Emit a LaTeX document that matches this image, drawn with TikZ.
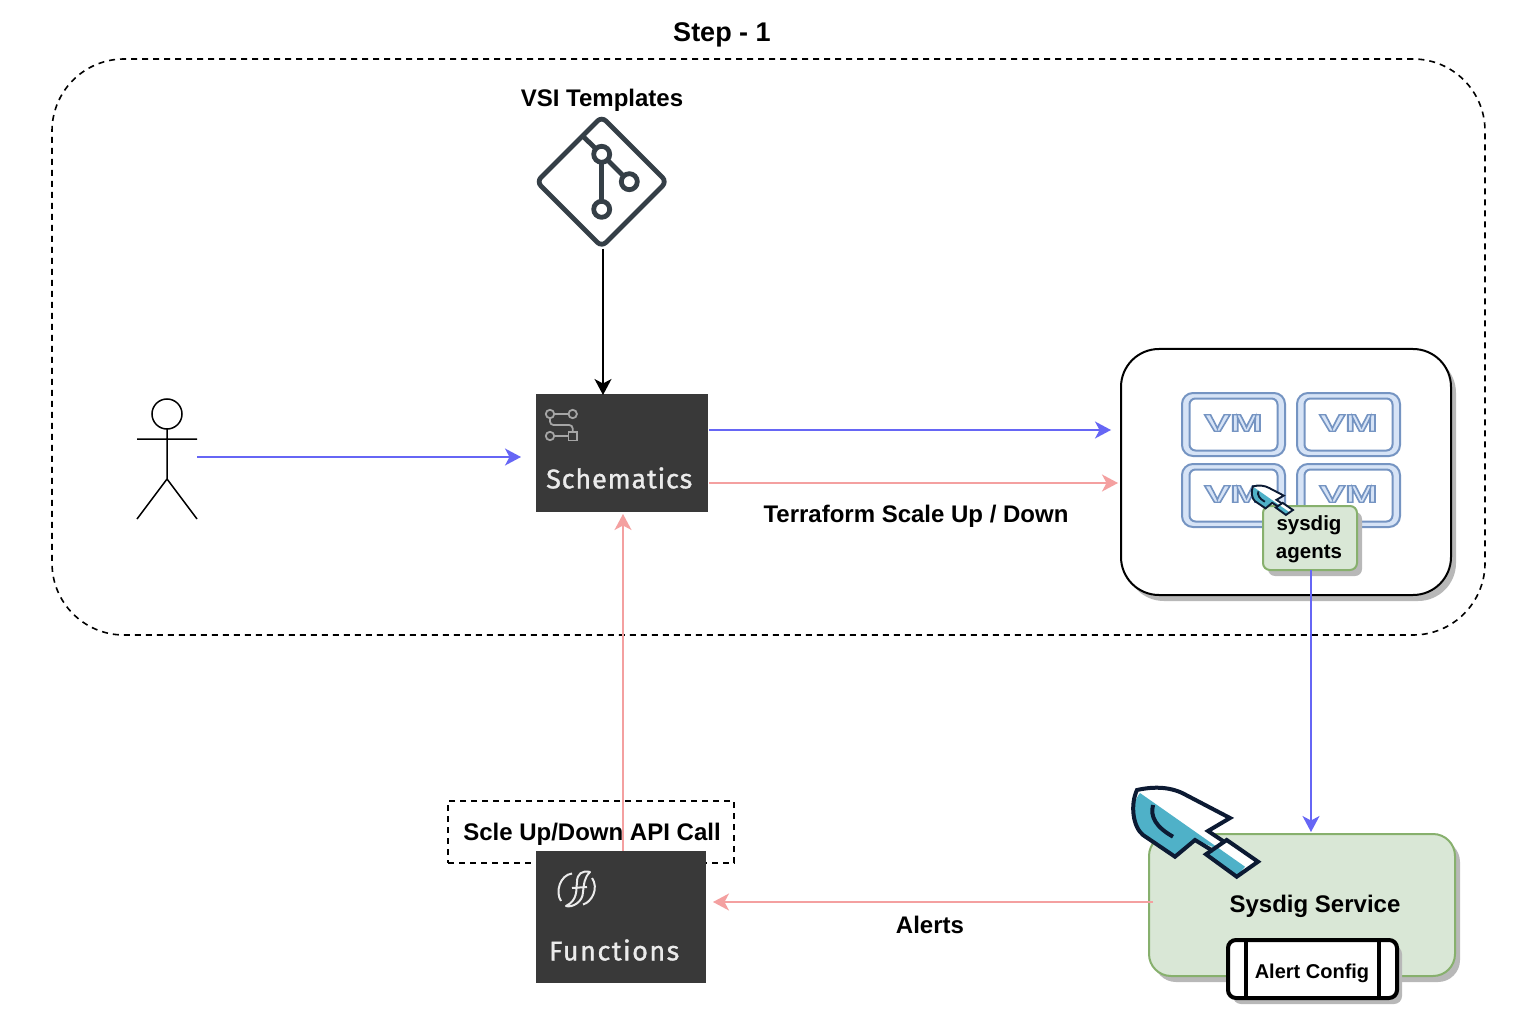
\documentclass[tikz,border=0pt]{standalone}
\usepackage{fontspec}
\setmainfont{Liberation Sans}
\newfontfamily\plexfont{Fira Sans}[FakeBold=1.2]
\usetikzlibrary{arrows.meta,shadows}
\definecolor{bluearrow}{HTML}{6666F5}
\definecolor{pinkarrow}{HTML}{F4A0A0}
\definecolor{darkbox}{HTML}{393939}
\definecolor{greenfill}{HTML}{D9E7D6}
\definecolor{greenline}{HTML}{87B06D}
\definecolor{vmfill}{HTML}{D6E3F6}
\definecolor{vmline}{HTML}{7594C2}
\definecolor{gitcol}{HTML}{353F47}
\definecolor{shovelink}{HTML}{0C1A33}
\definecolor{shovelblue}{HTML}{4FB1C8}
\newcommand{\shovelart}[1]{%
  \fill[white] (17,15) .. controls (35,11) and (52,12) .. (66,20) -- (110,43) -- (88,56) -- (103,66) -- (138,86.7) -- (116.7,101.7) -- (86,79.3) -- (93,72) -- (75,65) -- (55,81.7) -- (23,60) .. controls (13,52) and (10,30) .. (17,15) -- cycle;
  \fill[shovelblue] (20,18) -- (125,91.7) -- (116.7,101.7) -- (86,79.3) -- (93,72) -- (75,65) -- (55,81.7) -- (23,60) .. controls (13,52) and (10,30) .. (20,18) -- cycle;
  \draw[shovelink,line width=#1,line join=miter] (103,66) -- (88,56) -- (110,43) -- (66,20) .. controls (52,12) and (35,11) .. (17,15) .. controls (10,30) and (13,52) .. (23,60) -- (55,81.7) -- (75,65) -- (93,76);
  \draw[shovelink,line width=#1,line join=miter] (106.7,65) -- (138,86.7) -- (116.7,101.7) -- (86,79.3) -- cycle;
  \draw[shovelink,line width=#1] (33,30) .. controls (30,42) and (36,52) .. (53,61.7);
}
\newcommand{\vmtext}{\special{pdf:code 2 Tr 1.1 w 0.46 0.58 0.76 RG}\bfseries VM\special{pdf:code 0 Tr}}
\begin{document}
\begin{tikzpicture}[x=1pt,y=-1pt,
  lbl/.style={font=\bfseries\fontsize{#1}{#1}\selectfont,text=black,inner sep=0pt},
  lbl/.default=24,
  conn/.style={line width=1.5pt,-{Stealth[length=16pt,width=17pt,inset=4.5pt]}},
  shbox/.style={drop shadow={shadow xshift=5pt,shadow yshift=-6pt,fill=black!28,opacity=1}},
  darktile/.style={fill=darkbox,draw=none,inner sep=0pt},
  tiletext/.style={font=\plexfont\fontsize{27}{27}\selectfont\addfontfeatures{LetterSpace=#1},text=white!92!black,inner sep=0pt},
  vmbox/.style={draw=vmline,fill=vmfill,line width=2pt,rounded corners=11pt,minimum width=103pt,minimum height=63pt,inner sep=0pt},
  vminner/.style={draw=vmline,fill=white,line width=2pt,rounded corners=6pt,minimum width=88pt,minimum height=52pt,inner sep=0pt},
  vmlabel/.style={font=\fontsize{24}{24}\selectfont,text=vmfill,inner sep=0pt,xscale=1.62},
  git/.style={draw=gitcol,line width=4.8pt},
  tileicon/.style={draw=black!35,line width=1.8pt},
  dashline/.style={draw,line width=1.6pt,dash pattern=on 6pt off 5pt},
]
\useasboundingbox (0,0) rectangle (1540,1016);
\fill[white] (0,0) rectangle (1540,1016);

% dashed group
\node[dashline,rounded corners=72pt,minimum width=1433pt,minimum height=576pt,inner sep=0pt] (group) at (768.5,347) {};
\node[lbl=27] (title) at (722,35) {Step - 1};

% git icon
\node[lbl] (vsilabel) at (602,100) {VSI Templates};
\draw[git,rounded corners=6pt,fill=white] (601.7,116.7) -- (666.7,181.7) -- (601.7,246.7) -- (536.7,181.7) -- cycle;
\coordinate (gitbottom) at (603,249);
\draw[git] (582.3,135.7) -- (601.7,154.3) -- (629.3,181.7);
\draw[git] (601.7,154.3) -- (601.7,209.3);
\draw[git,fill=white] (601.7,154.3) circle[radius=8];
\draw[git,fill=white] (629.3,181.7) circle[radius=8];
\draw[git,fill=white] (601.7,209.3) circle[radius=8];

% person
\draw[line width=1.5pt] (167,414) circle[radius=15];
\draw[line width=1.5pt] (167,429) -- (167,479) (137,439) -- (197,439) (137,519) -- (167,479) -- (197,519);
\coordinate (personout) at (197,457);

% schematics
\node[darktile,minimum width=172pt,minimum height=118pt] (schem) at (622,453) {};
\node[tiletext=3,anchor=west] (schemtext) at (546,478) {Schematics};
\draw[tileicon] (550,414) circle[radius=4.2] (572.7,414) circle[radius=4.2] (550,436) circle[radius=4.2];
\draw[tileicon] (568.5,432) rectangle (576.9,440.4);
\draw[tileicon] (554.2,414) -- (568.5,414) (554.2,436) -- (568.5,436);
\draw[tileicon,rounded corners=3.5pt] (550,418.2) -- (550,425) -- (572.7,425) -- (572.7,432);

% VM cluster
\node[draw,line width=2pt,fill=white,rounded corners=38pt,minimum width=330pt,minimum height=246pt,inner sep=0pt,shbox] (cluster) at (1286,472) {};
\foreach \nm/\cx/\cy in {a/1233.5/424.5,b/1348.5/424.5,c/1233.5/495.5,d/1348.5/495.5}{
  \node[vmbox] (vm\nm) at (\cx,\cy) {};
  \node[vminner] at (\cx,\cy) {};
  \node[vmlabel] at (\cx,\cy-1.5) {\vmtext};
}
\node[draw=greenline,fill=greenfill,line width=2pt,rounded corners=7pt,minimum width=94pt,minimum height=64pt,inner sep=0pt,shbox] (agents) at (1310,538) {};
\begin{scope}[shift={(1247.4,481.4)},scale=0.33]
  \shovelart{1.9pt}
\end{scope}
\node[align=center,inner sep=0pt,font=\bfseries\fontsize{20.5}{28}\selectfont] (agentslabel) at (1309,539) {sysdig\\agents};

% sysdig service
\node[draw=greenline,fill=greenfill,line width=2pt,rounded corners=22pt,minimum width=306pt,minimum height=142pt,inner sep=0pt,shbox] (sysdig) at (1302,905) {};
\begin{scope}[shift={(1120,775)}]
  \shovelart{4pt}
\end{scope}
\node[lbl] (sysdiglabel) at (1315,906) {Sysdig Service};
\node[draw,fill=white,line width=4pt,rounded corners=8pt,minimum width=169pt,minimum height=58pt,inner sep=0pt,shbox] (alert) at (1312.5,969) {};
\draw[line width=4pt] (1246,940) -- (1246,998) (1379,940) -- (1379,998);
\node[lbl=20] (alertlabel) at (1312,973) {Alert Config};

% functions
\node[dashline,fill=white,minimum width=286pt,minimum height=62pt,inner sep=0pt] (apibox) at (591,832) {};
\node[lbl] (apilabel) at (592,834) {Scle Up/Down API Call};
\node[darktile,minimum width=170pt,minimum height=132pt] (func) at (621,917) {};
\node[tiletext=5.5,anchor=west] (functext) at (549,950) {Functions};
\draw[white!92!black,line width=2pt] (572,873.5) .. controls (560,875) and (555,892) .. (561,901);
\draw[white!92!black,line width=2pt] (583,904.5) .. controls (592,902) and (599,888) .. (592,878);
\draw[white!92!black,line width=2pt,line join=round] (590,872) .. controls (582,870) and (577,874) .. (577,882) .. controls (576,890) and (578,900) .. (566,906) .. controls (572,908) and (583,902) .. (583,892) .. controls (584,884) and (584,878) .. (590,872) -- cycle;
\draw[white!92!black,line width=2pt] (572,888) -- (587,887);

% connectors
\coordinate (schemin) at (521,457);
\coordinate (clusterblue) at (1111,430);
\coordinate (clusterpink) at (1118,483);
\coordinate (schemblue) at (709,430);
\coordinate (schempink) at (709,483);
\coordinate (schemtop) at (603,395);
\coordinate (schembot) at (623,514);
\coordinate (functop) at (623,851);
\coordinate (funcright) at (713,902);
\coordinate (sysdigleft) at (1153,902);
\coordinate (agentsbot) at (1311,570);
\coordinate (sysdigtop) at (1311,832);
\draw[conn,bluearrow] (personout) -- (schemin);
\draw[conn,black] (gitbottom) -- (schemtop);
\draw[conn,bluearrow] (schemblue) -- (clusterblue);
\draw[conn,pinkarrow] (schempink) -- (clusterpink);
\draw[conn,pinkarrow] (functop) -- (schembot);
\draw[conn,pinkarrow] (sysdigleft) -- (funcright);
\draw[conn,bluearrow] (agentsbot) -- (sysdigtop);

\node[lbl] (scalelabel) at (916,516) {Terraform Scale Up / Down};
\node[lbl] (alertslabel) at (930,925) {Alerts};
\end{tikzpicture}
\end{document}
